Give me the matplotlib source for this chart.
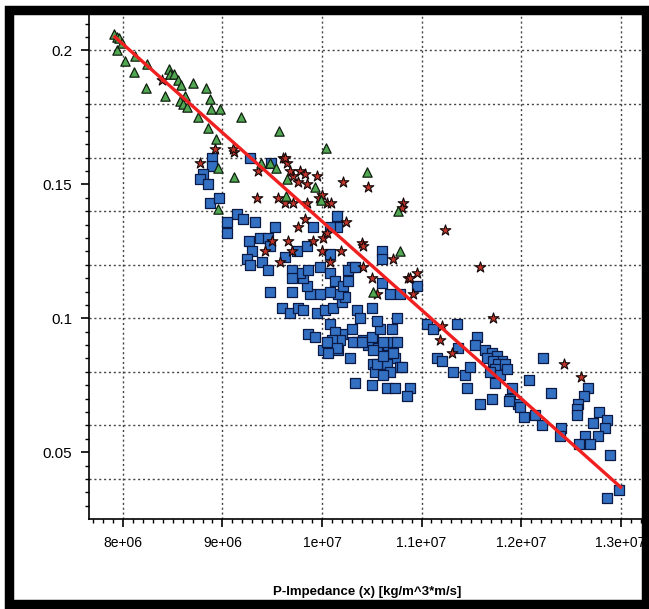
import numpy as np
import matplotlib
matplotlib.use("Agg")
import matplotlib.pyplot as plt
from matplotlib import font_manager
from matplotlib.ticker import MultipleLocator, FuncFormatter
from matplotlib.patches import Rectangle


def pick_font():
    # narrow fonts first, the original labels are condensed
    for name, size in [('Liberation Sans Narrow', 12), ('DejaVu Sans Condensed', 11),
                       ('Liberation Sans', 10)]:
        try:
            font_manager.findfont(font_manager.FontProperties(family=name),
                                  fallback_to_default=False)
            return name, size
        except ValueError:
            pass
    return 'DejaVu Sans', 9


font_name, font_size = pick_font()
plt.rcParams['font.family'] = [font_name, 'DejaVu Sans']

# P-impedance in units of 1e6 kg/m^3*m/s, y values as read from the crossplot
sq_x = [8.90, 8.90, 8.80, 8.77, 8.86, 8.88, 8.97, 9.28, 9.49, 9.15, 9.21, 9.33, 9.05, 9.05,
        9.27, 9.30, 9.25, 9.38, 9.46, 9.53, 9.40, 9.46, 9.48, 9.63, 9.75, 9.85, 9.91, 10.15,
        10.15, 10.08, 10.08, 10.30, 10.60, 10.60, 10.60, 9.28, 9.48, 9.70, 9.60, 9.68, 9.76,
        9.81, 9.95, 10.03, 10.11, 10.20, 10.23, 10.16, 10.08, 9.98, 9.88, 9.85, 9.81, 9.78,
        9.86, 9.98, 10.08, 10.13, 10.21, 10.26, 10.26, 10.33, 9.70, 9.70, 10.35, 10.38, 10.30,
        10.41, 10.51, 10.55, 10.46, 10.35, 10.20, 10.08, 10.13, 10.18, 10.10, 10.01, 10.05,
        10.16, 10.28, 10.51, 10.53, 10.33, 9.86, 9.93, 10.31, 10.40, 10.50, 10.58, 10.70,
        10.75, 11.06, 10.68, 10.78, 10.95, 10.66, 10.71, 10.73, 10.78, 10.65, 10.55, 10.68,
        10.15, 10.06, 10.50, 10.55, 10.61, 10.75, 10.71, 10.61, 10.51, 10.80, 10.61, 10.50,
        10.65, 10.73, 10.88, 10.85, 11.12, 11.36, 11.16, 11.21, 11.37, 11.32, 11.44, 11.46,
        11.49, 11.56, 11.54, 11.64, 11.71, 11.76, 11.81, 11.66, 11.72, 11.77, 11.74, 11.69,
        11.79, 11.74, 11.91, 11.71, 11.59, 11.89, 11.97, 11.84, 11.86, 12.22, 12.08, 11.88,
        11.99, 12.03, 12.14, 12.21, 12.40, 12.39, 12.30, 12.67, 12.63, 12.57, 12.56, 12.56,
        12.78, 12.86, 12.84, 12.72, 12.77, 12.64, 12.58, 12.69, 12.89, 12.98, 12.86]
sq_y = [0.160, 0.157, 0.154, 0.152, 0.150, 0.143, 0.145, 0.160, 0.158, 0.139, 0.137, 0.136,
        0.136, 0.132, 0.129, 0.125, 0.122, 0.130, 0.130, 0.134, 0.121, 0.118, 0.127, 0.123,
        0.125, 0.127, 0.134, 0.138, 0.134, 0.134, 0.124, 0.119, 0.125, 0.122, 0.113, 0.120,
        0.110, 0.110, 0.104, 0.102, 0.104, 0.103, 0.102, 0.103, 0.104, 0.106, 0.108, 0.109,
        0.110, 0.109, 0.109, 0.112, 0.115, 0.117, 0.118, 0.119, 0.117, 0.114, 0.112, 0.114,
        0.118, 0.119, 0.118, 0.115, 0.103, 0.100, 0.096, 0.092, 0.092, 0.089, 0.090, 0.091,
        0.094, 0.098, 0.095, 0.092, 0.092, 0.088, 0.091, 0.088, 0.085, 0.083, 0.080, 0.076,
        0.094, 0.093, 0.091, 0.091, 0.093, 0.096, 0.096, 0.100, 0.098, 0.109, 0.109, 0.112,
        0.090, 0.091, 0.085, 0.082, 0.083, 0.083, 0.080, 0.089, 0.087, 0.104, 0.099, 0.091,
        0.091, 0.087, 0.086, 0.088, 0.082, 0.079, 0.075, 0.074, 0.074, 0.074, 0.071, 0.096,
        0.098, 0.085, 0.084, 0.089, 0.080, 0.079, 0.074, 0.082, 0.093, 0.090, 0.088, 0.087,
        0.086, 0.084, 0.085, 0.084, 0.083, 0.081, 0.080, 0.079, 0.076, 0.074, 0.070, 0.068,
        0.070, 0.068, 0.083, 0.081, 0.085, 0.077, 0.069, 0.067, 0.063, 0.064, 0.060, 0.059,
        0.056, 0.072, 0.074, 0.071, 0.068, 0.066, 0.064, 0.065, 0.062, 0.059, 0.061, 0.056,
        0.056, 0.053, 0.053, 0.049, 0.036, 0.033]

star_x = [8.39, 8.93, 9.12, 8.77, 9.35, 9.36, 9.61, 9.65, 9.71, 9.76, 9.85, 9.95, 10.05, 9.56,
          9.85, 9.97, 9.11, 9.63, 9.68, 9.78, 9.83, 9.63, 9.71, 10.00, 9.83, 9.76, 10.01, 9.50,
          9.43, 9.66, 9.70, 9.58, 10.21, 10.46, 10.09, 10.81, 10.80, 10.24, 10.40, 10.41, 10.19,
          10.71, 11.24, 10.08, 10.41, 10.50, 10.86, 10.95, 10.91, 10.55, 10.00, 10.05, 9.91,
          10.88, 11.59, 11.72, 11.21, 11.19, 11.31, 12.43, 12.60]
star_y = [0.189, 0.163, 0.162, 0.158, 0.145, 0.155, 0.160, 0.158, 0.153, 0.151, 0.150, 0.153,
          0.143, 0.145, 0.143, 0.145, 0.163, 0.160, 0.155, 0.155, 0.154, 0.143, 0.143, 0.146,
          0.137, 0.134, 0.130, 0.129, 0.125, 0.129, 0.125, 0.121, 0.151, 0.149, 0.143, 0.143,
          0.141, 0.136, 0.128, 0.127, 0.125, 0.122, 0.133, 0.121, 0.119, 0.115, 0.115, 0.117,
          0.109, 0.109, 0.125, 0.132, 0.129, 0.115, 0.119, 0.100, 0.097, 0.092, 0.087, 0.083,
          0.078]

tri_x = [7.91, 7.94, 7.96, 7.94, 7.99, 8.02, 8.12, 8.11, 8.23, 8.24, 8.42, 8.46, 8.47, 8.51,
         8.55, 8.58, 8.70, 8.62, 8.57, 8.60, 8.64, 8.75, 8.84, 8.88, 8.89, 8.98, 8.86, 8.94,
         9.19, 9.57, 10.04, 9.12, 8.96, 8.96, 9.39, 9.48, 9.54, 9.65, 9.64, 9.93, 10.45,
         10.76, 10.78, 9.99, 10.51]
tri_y = [0.206, 0.205, 0.2045, 0.200, 0.2026, 0.196, 0.198, 0.192, 0.186, 0.195, 0.183,
         0.193, 0.191, 0.191, 0.189, 0.187, 0.188, 0.183, 0.181, 0.180, 0.179, 0.175, 0.186,
         0.182, 0.178, 0.178, 0.171, 0.167, 0.175, 0.170, 0.1635, 0.1526, 0.156, 0.1407,
         0.158, 0.158, 0.156, 0.152, 0.1455, 0.149, 0.1545, 0.140, 0.125, 0.144, 0.110]

# regression line end points
fit_x = [7.92, 13.0]
fit_y = [0.205, 0.037]

scale = 1e6
sq_x = np.array(sq_x) * scale
star_x = np.array(star_x) * scale
tri_x = np.array(tri_x) * scale
fit_x = np.array(fit_x) * scale

fig = plt.figure(figsize=(6.49, 6.09), dpi=100)
ax = fig.add_axes([0.137, 0.1478, 0.857, 0.832])

ax.scatter(sq_x, sq_y, marker='s', s=56, facecolor='#3370c2', edgecolor='#0b1a45',
           linewidth=0.9, zorder=3)
ax.scatter(star_x, star_y, marker='*', s=65, facecolor='#c03328', edgecolor='#140808',
           linewidth=0.8, zorder=4)
ax.scatter(tri_x, tri_y, marker='^', s=45, facecolor='#52a852', edgecolor='#102010',
           linewidth=0.9, zorder=5)
ax.plot(fit_x, fit_y, color='#f02020', linewidth=2.4, zorder=6)

ax.set_xlim(7.659e6, 13.246e6)
ax.set_ylim(0.0251, 0.2142)

ax.set_xticks(np.arange(8e6, 13.01e6, 1e6))
ax.xaxis.set_minor_locator(MultipleLocator(1e5))
ax.set_yticks([0.05, 0.1, 0.15, 0.2])
ax.yaxis.set_minor_locator(MultipleLocator(0.005))
fmt = FuncFormatter(lambda v, p: '%g' % v)
ax.xaxis.set_major_formatter(fmt)
ax.yaxis.set_major_formatter(fmt)

for gx in np.arange(8e6, 13.01e6, 1e6):
    ax.axvline(gx, color='#444444', linestyle=(0, (1.5, 2)), linewidth=1.0, zorder=1)
for gy in np.arange(0.04, 0.201, 0.02):
    ax.axhline(gy, color='#444444', linestyle=(0, (1.5, 2)), linewidth=1.0, zorder=1)

ax.tick_params(which='major', direction='out', length=6, width=1.2, labelsize=font_size,
               pad=6)
ax.tick_params(axis='y', which='major', labelsize=font_size + 1)
ax.tick_params(which='minor', direction='out', length=3, width=1.0)
for side in ('top', 'right'):
    ax.spines[side].set_visible(False)
for side in ('left', 'bottom'):
    ax.spines[side].set_linewidth(1.2)

ax.set_xlabel('P-Impedance (x) [kg/m^3*m/s]', fontsize=font_size - 0.5, fontweight='bold',
              labelpad=26)

fig.patches.append(Rectangle((0.0146, 0.009), 0.9808, 0.9738, transform=fig.transFigure,
                             fill=False, edgecolor='black', linewidth=6.8, zorder=10))

fig.savefig('out.png', dpi=100)
